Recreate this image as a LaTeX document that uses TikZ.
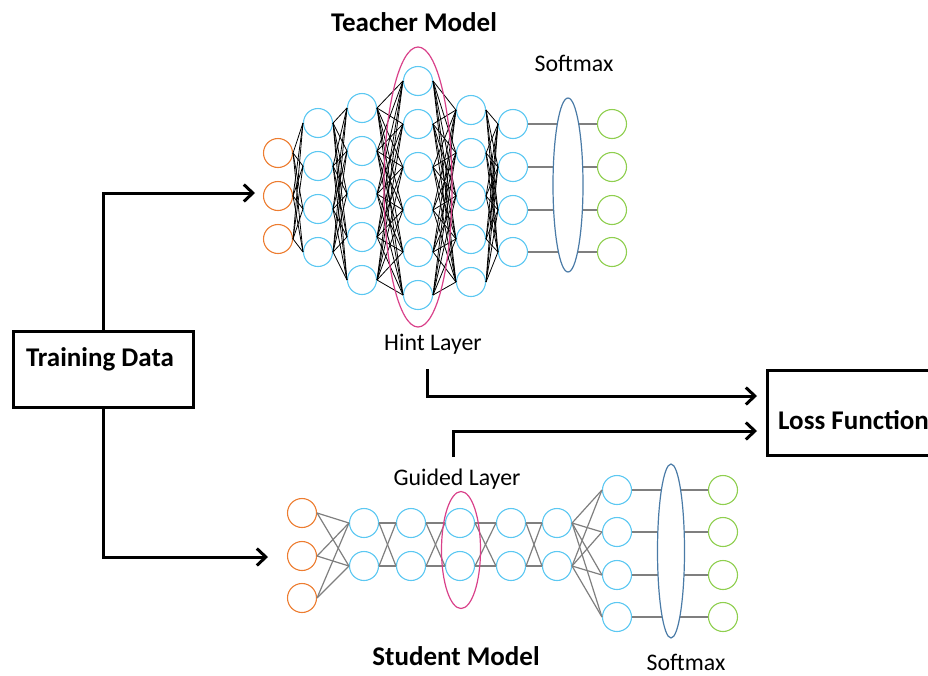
\documentclass[tikz,border=0pt]{standalone}
\usepackage{fontspec}
\setmainfont{Carlito}
\usetikzlibrary{arrows.meta,shapes.geometric}
\definecolor{inorange}{HTML}{ED7D31}
\definecolor{hidcyan}{HTML}{5CC8F2}
\definecolor{outgreen}{HTML}{8FCF4F}
\definecolor{hintpink}{HTML}{D9418A}
\definecolor{softblue}{HTML}{4A7BA7}
\definecolor{edgegray}{HTML}{7F7F7F}

\begin{document}
\begin{tikzpicture}[x=1pt,y=-1pt,
  neuron/.style={circle, line width=1.1pt, minimum size=29pt, inner sep=0pt, fill=white},
  inneuron/.style={neuron, draw=inorange},
  hidneuron/.style={neuron, draw=hidcyan},
  outneuron/.style={neuron, draw=outgreen},
  tedge/.style={black, line width=0.8pt},
  sedge/.style={edgegray, line width=1.2pt},
  oedge/.style={edgegray, line width=1.5pt},
  softmaxring/.style={ellipse, draw=softblue, line width=1.2pt, fill=white, inner sep=0pt},
  hintring/.style={ellipse, draw=hintpink, line width=1.2pt, inner sep=0pt},
  flow/.style={line width=3pt, -{Straight Barb[length=9pt,width=17pt,line width=3pt]}},
  boxed/.style={draw, line width=3pt, rectangle, inner sep=0pt},
  lbl/.style={font=\fontsize{23.8}{28}\selectfont, inner sep=0pt},
  title/.style={font=\fontsize{27}{32}\selectfont\bfseries, inner sep=0pt},
]
\useasboundingbox (0,0) rectangle (928,675);
\clip (0,0) rectangle (928,675);

% ---------- Teacher network ----------
\foreach \y [count=\i] in {153,196,239} \node[inneuron] (t1-\i) at (278,\y) {};
\foreach \y [count=\i] in {123,166,209,252} \node[hidneuron] (t2-\i) at (318,\y) {};
\foreach \y [count=\i] in {108,151,194,237,280} \node[hidneuron] (t3-\i) at (362,\y) {};
\foreach \y [count=\i] in {81,124,167,210,252,295} \node[hidneuron] (t4-\i) at (418,\y) {};
\foreach \y [count=\i] in {110,153,196,239,282} \node[hidneuron] (t5-\i) at (471,\y) {};
\foreach \y [count=\i] in {124,167,210,252} \node[hidneuron] (t6-\i) at (513,\y) {};
\foreach \y [count=\i] in {124,167,210,252} \node[outneuron] (t7-\i) at (612,\y) {};

\foreach \i in {1,...,3} \foreach \j in {1,...,4} \draw[tedge] (t1-\i.east) -- (t2-\j.west);
\foreach \i in {1,...,4} \foreach \j in {1,...,5} \draw[tedge] (t2-\i.east) -- (t3-\j.west);
\foreach \i in {1,...,5} \foreach \j in {1,...,6} \draw[tedge] (t3-\i.east) -- (t4-\j.west);
\foreach \i in {1,...,6} \foreach \j in {1,...,5} \draw[tedge] (t4-\i.east) -- (t5-\j.west);
\foreach \i in {1,...,5} \foreach \j in {1,...,4} \draw[tedge] (t5-\i.east) -- (t6-\j.west);
\foreach \i in {1,...,4} \draw[oedge] (t6-\i.east) -- (t7-\i.west);

\node[softmaxring, minimum width=30pt, minimum height=174pt] (tsoft) at (568,185) {};
\node[hintring, minimum width=68pt, minimum height=280pt] (thint) at (418,187) {};

% ---------- Student network ----------
\foreach \y [count=\i] in {513,556,598} \node[inneuron] (s1-\i) at (302,\y) {};
\foreach \x [count=\k from 2] in {364,411,460,511,557}
  \foreach \y [count=\i] in {523,566} \node[hidneuron] (s\k-\i) at (\x,\y) {};
\foreach \y [count=\i] in {490,532,575,617} \node[hidneuron] (s7-\i) at (617,\y) {};
\foreach \y [count=\i] in {490,532,575,617} \node[outneuron] (s8-\i) at (723,\y) {};

\foreach \i in {1,...,3} \foreach \j in {1,2} \draw[sedge] (s1-\i.east) -- (s2-\j.west);
\foreach \k [evaluate=\k as \n using int(\k+1)] in {2,...,5}
  \foreach \i in {1,2} \foreach \j in {1,2} \draw[sedge] (s\k-\i.east) -- (s\n-\j.west);
\foreach \i in {1,2} \foreach \j in {1,...,4} \draw[sedge] (s6-\i.east) -- (s7-\j.west);
\foreach \i in {1,...,4} \draw[oedge] (s7-\i.east) -- (s8-\i.west);

\node[softmaxring, minimum width=27pt, minimum height=174pt] (ssoft) at (671,551) {};
\node[hintring, minimum width=39pt, minimum height=117pt] (sguide) at (461,550) {};

% ---------- Labels ----------
\node[title] (ttitle) at (414,22) {Teacher Model};
\node[lbl] (tsoftlbl) at (574,63) {Softmax};
\node[lbl] (hintlbl) at (433,344) {Hint Layer};
\node[lbl] (guidelbl) at (457,479) {Guided Layer};
\node[title] (stitle) at (456,656) {Student Model};
\node[lbl, anchor=base] (ssoftlbl) at (686,670) {Softmax};

% ---------- Boxes ----------
\node[boxed, minimum width=180pt, minimum height=76pt] (train) at (103,369) {};
\node[title] (traintxt) at (100,359) {Training Data};
\node[boxed, minimum width=240pt, minimum height=85pt, anchor=north west] (loss) at (766,369) {};
\node[title, anchor=west] (losstxt) at (778,420) {Loss Function};

% ---------- Flow arrows ----------
\coordinate (tin) at (255,193);
\coordinate (sin) at (268,557);
\coordinate (hintfrom) at (427,369);
\coordinate (hintto) at (757,396);
\coordinate (guidefrom) at (453,457);
\coordinate (guideto) at (757,431);
\draw[flow] (train.north) |- (tin);
\draw[flow] (train.south) |- (sin);
\draw[flow] (hintfrom) |- (hintto);
\draw[flow] (guidefrom) |- (guideto);
\end{tikzpicture}
\end{document}
